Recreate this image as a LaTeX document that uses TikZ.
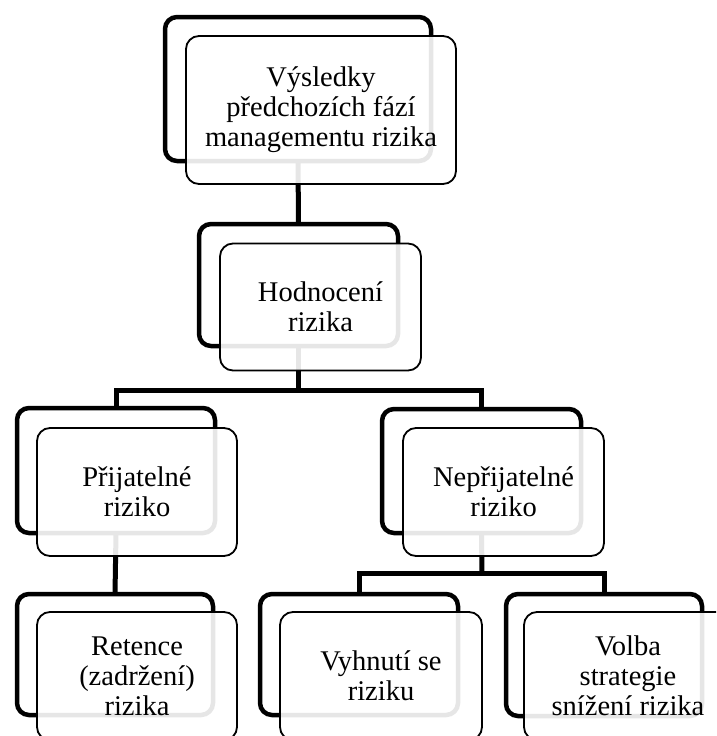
\documentclass[tikz,border=0pt]{standalone}
\usepackage{fontspec}
\setmainfont{Liberation Serif}
\usetikzlibrary{calc}
\tikzset{
  backbox/.style={draw=none, inner sep=0pt, outer sep=0pt},
  backline/.style={draw=black, line width=4.5pt, rounded corners=12pt},
  frontbox/.style={draw=black, line width=1.8pt, rounded corners=13pt, fill=white, fill opacity=0.9, text opacity=1,
     inner sep=0pt, align=center, font=\fontsize{28.5}{30}\selectfont},
  conn/.style={draw=black, line width=5pt}
}
\begin{document}
\begin{tikzpicture}[x=1pt, y=-1pt]
\useasboundingbox (0,0) rectangle (716,736);
\clip (0,0) rectangle (716,736);
\coordinate (busA) at (298.5,390);
\coordinate (busB) at (482,573);
\path
  node[backbox, minimum width=266pt, minimum height=144pt] (topB) at (298,89) {}
  node[backbox, minimum width=199pt, minimum height=122pt] (hodB) at (298.5,285) {}
  node[backbox, minimum width=198pt, minimum height=125pt] (prijB) at (116,470.5) {}
  node[backbox, minimum width=199pt, minimum height=124pt] (neprijB) at (481.5,471) {}
  node[backbox, minimum width=196pt, minimum height=121pt] (retB) at (115,654.5) {}
  node[backbox, minimum width=198pt, minimum height=121pt] (vyhB) at (359,654.5) {}
  node[backbox, minimum width=196pt, minimum height=122pt] (volB) at (604,655) {};
% connectors
\draw[conn] (topB.south) -- (hodB.north);
\draw[conn] (hodB.south) -- (busA);
\draw[conn] (prijB.north) |- (busA) -| (neprijB.north);
\draw[conn] (prijB.south) -- (retB.north);
\draw[conn] (neprijB.south) -- (busB);
\draw[conn] (vyhB.north) |- (busB) -| (volB.north);
% back box outlines
\foreach \b in {topB,hodB,prijB,neprijB,retB,vyhB,volB} {
  \draw[backline] (\b.south west) rectangle (\b.north east);
}
% front boxes
\node[frontbox, minimum width=270pt, minimum height=148pt] (top) at ($(topB.center)+(23,21)$)
  {Výsledky\\předchozích fází\\managementu rizika};
\node[frontbox, minimum width=201pt, minimum height=127pt] (hod) at ($(hodB.center)+(22,22)$)
  {Hodnocení\\rizika};
\node[frontbox, minimum width=200pt, minimum height=128pt] (prij) at ($(prijB.center)+(21,21.5)$)
  {Přijatelné\\riziko};
\node[frontbox, minimum width=201pt, minimum height=128pt] (neprij) at ($(neprijB.center)+(22,21)$)
  {Nepřijatelné\\riziko};
\node[frontbox, minimum width=200pt, minimum height=128pt] (ret) at ($(retB.center)+(22,21.5)$)
  {Retence\\(zadržení)\\rizika};
\node[frontbox, minimum width=202pt, minimum height=128pt] (vyh) at ($(vyhB.center)+(22,21.5)$)
  {Vyhnutí se\\riziku};
\node[frontbox, minimum width=208pt, minimum height=128pt] (vol) at ($(volB.center)+(24,21)$)
  {Volba\\strategie\\snížení rizika};
\end{tikzpicture}
\end{document}
